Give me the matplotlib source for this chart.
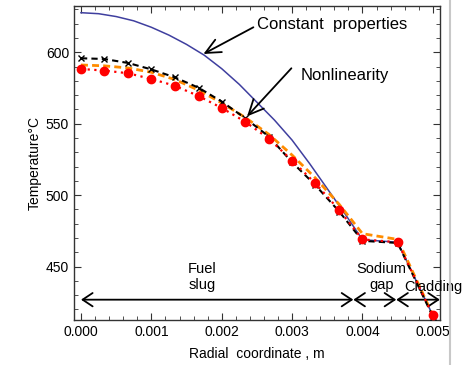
import numpy as np
import matplotlib
matplotlib.use("Agg")
import matplotlib.pyplot as plt
from matplotlib.ticker import MultipleLocator
from matplotlib.lines import Line2D

plt.rcParams["font.family"] = ["Liberation Sans", "DejaVu Sans"]

# radial positions of the computed points (m)
r_pts = [0.0, 0.00033, 0.00067, 0.001, 0.00133, 0.00167, 0.002, 0.00233,
         0.00267, 0.003, 0.00333, 0.00367, 0.004, 0.0045, 0.005]
T_red = [588.3, 587.2, 585.3, 581.3, 576.6, 569.4, 561.0, 551.5,
         539.5, 524.2, 508.3, 489.5, 469.0, 467.0, 415.8]
T_black = [595.8, 595.3, 592.5, 588.0, 582.5, 575.2, 565.5, 554.0,
           541.0, 523.0, 507.0, 488.5, 468.0, 466.5, 415.0]
T_orange = [591.1, 590.5, 589.0, 586.0, 581.0, 573.5, 564.5, 554.5,
            542.5, 528.0, 512.0, 493.5, 473.0, 469.0, 416.0]

# constant properties solution
r_const = [0.0, 0.00025, 0.0005, 0.00075, 0.001, 0.00125, 0.0015, 0.00175,
           0.002, 0.00225, 0.0025, 0.00275, 0.003, 0.00325, 0.0035, 0.00375,
           0.004, 0.0045, 0.005]
T_const = [627.7, 627.0, 625.0, 622.0, 617.5, 612.0, 605.5, 598.0,
           588.5, 577.5, 565.0, 552.5, 538.5, 522.0, 504.5, 487.0,
           468.8, 467.0, 415.8]

# region boundaries for the bottom arrows
regions = [(0.0, 0.00387), (0.00387, 0.00448), (0.00448, 0.0051)]

fig = plt.figure(figsize=(4.74, 3.65), dpi=100)
ax = fig.add_axes([0.156, 0.123, 0.772, 0.861])

ax.plot(r_const, T_const, color="#3f3f9f", lw=1.1, zorder=2)
ax.plot(r_pts, T_orange, color="#ff8c00", lw=2.0, ls=(0, (2.5, 1.5)), zorder=3)
ax.plot(r_pts, T_black, color="black", lw=1.5, ls=(0, (3, 2)),
        marker="x", ms=5, mew=1.0, zorder=4)
ax.plot(r_pts, T_red, color="red", lw=1.6, ls=(0, (1, 2)),
        marker="o", ms=6, zorder=5)

ax.set_xlim(-0.0001, 0.0051)
ax.set_ylim(412.5, 632.5)
ax.xaxis.set_major_locator(MultipleLocator(0.001))
ax.xaxis.set_minor_locator(MultipleLocator(0.0002))
ax.yaxis.set_major_locator(MultipleLocator(50))
ax.yaxis.set_minor_locator(MultipleLocator(10))
ax.xaxis.set_major_formatter(plt.FuncFormatter(lambda v, p: f"{v:.3f}"))
ax.tick_params(which="both", direction="in", top=True, right=True,
               labelsize=10, color="#333333")
ax.tick_params(which="major", length=5)
ax.tick_params(which="minor", length=3)
for s in ax.spines.values():
    s.set_color("#333333")
    s.set_linewidth(1.0)

ax.set_xlabel("Radial  coordinate , m", fontsize=10, labelpad=6)
ax.set_ylabel("Temperature°C", fontsize=10, labelpad=3)

# region arrows
arrow_T = 426.8
for r0, r1 in regions:
    ax.annotate("", xy=(r0, arrow_T), xytext=(r1, arrow_T),
                arrowprops=dict(arrowstyle="<->,head_length=0.45,head_width=0.3",
                                color="black", lw=1.3, mutation_scale=16,
                                shrinkA=0, shrinkB=0))
ax.text(0.00172, 442.7, "Fuel\nslug", ha="center", va="center",
        fontsize=10.5, linespacing=1.25)
ax.text(0.00427, 442.7, "Sodium\ngap", ha="center", va="center",
        fontsize=10.5, linespacing=1.25)
ax.text(0.00501, 436.0, "Cladding", ha="center", va="center",
        fontsize=10.5)

# callouts
callout_style = "->,head_length=0.6,head_width=0.28"
ax.annotate("", xy=(0.00174, 598.8), xytext=(0.00245, 617.5),
            arrowprops=dict(arrowstyle=callout_style, color="black", lw=1.3,
                            mutation_scale=18, shrinkA=0, shrinkB=0))
ax.text(0.00250, 619.5, "Constant  properties", ha="left", va="center",
        fontsize=12)
ax.annotate("", xy=(0.00236, 555.1), xytext=(0.00299, 588.8),
            arrowprops=dict(arrowstyle=callout_style, color="black", lw=1.3,
                            mutation_scale=18, shrinkA=0, shrinkB=0))
ax.text(0.00312, 583.5, "Nonlinearity", ha="left", va="center", fontsize=12)

# grey frame line at right edge of the original picture
fig.add_artist(Line2D([450 / 474, 450 / 474], [0, 1], color="#c8c8c8", lw=1.5))

fig.savefig("out.png", dpi=100)
